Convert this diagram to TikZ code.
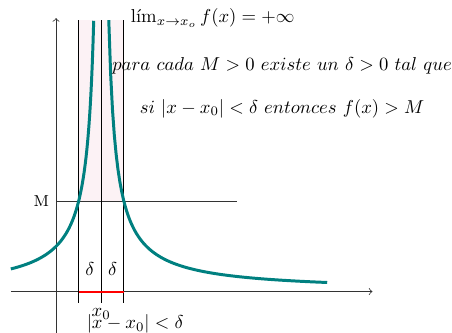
\documentclass[tikz,border=0pt]{standalone}
\usepackage{amsmath}
\usepackage{graphicx}
\usepackage{tikz}
\usetikzlibrary{positioning}
\definecolor{bandFill}{RGB}{252,242,245}
\newcommand{\shrinktxt}[1]{\scalebox{0.94}{#1}}

\begin{document}
\begin{tikzpicture}[
    x=0.4cm, y=0.4cm,
    >=to,
    axis/.style={->, draw=black!80},
    guide/.style={draw=black},
    curve/.style={teal, line width=1.5pt},
    band/.style={red, line width=1pt}
  ]
    \useasboundingbox (-2.48,-1.82) rectangle (17.52,12.9);

    % strip above M
    \fill[bandFill] (1,4) rectangle (3,12);

    % axes
    \coordinate (xl) at (-2,0);
    \coordinate (xr) at (14,0);
    \coordinate (yb) at (0,-1.82);
    \coordinate (yt) at (0,12.1);
    \draw[axis] (xl) -- (xr);
    \draw[axis] (yb) -- (yt);

    % level M
    \node[left, font=\footnotesize] (mlab) at (0,4) {M};
    \coordinate (mr) at (8,4);
    \draw[guide, draw=black!80] (mlab.east) -- (mr);

    % x0 - delta, x0, x0 + delta
    \foreach \i/\n in {1/a,2/b,3/c} {
      \coordinate (\n bot) at (\i,-0.5);
      \coordinate (\n top) at (\i,12);
      \draw[guide] (\n bot) -- (\n top);
    }

    % interval on the x axis
    \coordinate (d1) at (1,0);
    \coordinate (d2) at (3,0);
    \draw[band] (d1) -- (d2);

    % f(x) = 4/|x-2|
    \draw[curve] plot[domain=-2:1.667, samples=120] (\x,{4/(2-\x)});
    \draw[curve] plot[domain=2.333:12, samples=120] (\x,{4/(\x-2)});

    \node (dleft) at (1.5,1) {\shrinktxt{$\delta$}};
    \node (dright) at (2.5,1) {\shrinktxt{$\delta$}};
    \node (xzero) at (2,-1.0) {\shrinktxt{$x_0$}};
    \node (cond) at (3.5,-1.45) {\shrinktxt{$|x-x_0|<\delta$}};

    \node[right] (lim) at (3,12.1) {\shrinktxt{$\textrm{lím}_{x\rightarrow x_o}\, f(x)=+\infty$}};
    \node (def) at (10,10) {\shrinktxt{$para\ cada\ M>0\ existe\ un\ \delta>0\ tal\ que$}};
    \node (impl) at (10,8.1) {\shrinktxt{$si\ |x-x_0|<\delta\ entonces\ f(x)>M$}};
  \end{tikzpicture}
\end{document}
